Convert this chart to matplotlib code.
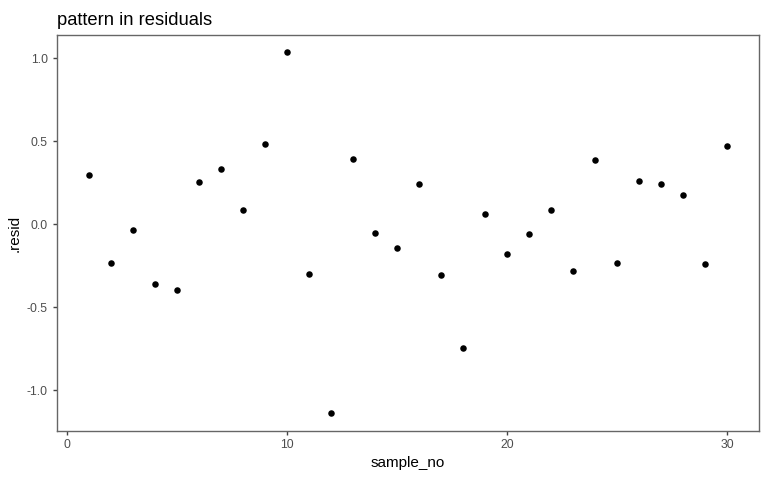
import matplotlib
matplotlib.use("Agg")
import matplotlib.pyplot as plt

plt.rcParams["font.family"] = ["Liberation Sans", "DejaVu Sans"]

sample_no = list(range(1, 31))
resid = [0.295, -0.235, -0.036, -0.361, -0.398, 0.253, 0.331, 0.084, 0.482, 1.036,
         -0.301, -1.139, 0.392, -0.054, -0.145, 0.241, -0.307, -0.747, 0.060, -0.181,
         -0.060, 0.084, -0.283, 0.386, -0.235, 0.259, 0.241, 0.175, -0.241, 0.470]
xticks = [0, 10, 20, 30]
yticks = [-1.0, -0.5, 0.0, 0.5, 1.0]

fig = plt.figure(figsize=(7.68, 4.8), dpi=100)
ax = fig.add_axes([57 / 768, 1 - 431 / 480, 702 / 768, 396 / 480])
ax.scatter(sample_no, resid, s=22, color="black", linewidths=0, zorder=3)

ax.set_xlim(-0.45, 31.45)
ax.set_ylim(-1.247, 1.139)
ax.set_xticks(xticks)
ax.set_xticklabels([str(t) for t in xticks])
ax.set_yticks(yticks)
ax.set_yticklabels([f"{t:.1f}" for t in yticks])
for s in ax.spines.values():
    s.set_color("#666666")
    s.set_linewidth(1.0)
ax.tick_params(colors="#444444", labelcolor="#4d4d4d", labelsize=8.8, length=3, width=1)
ax.tick_params(axis="x", pad=3)
ax.set_xlabel("sample_no", fontsize=11, labelpad=3)
ax.set_ylabel(".resid", fontsize=11, labelpad=4)
ax.set_title("pattern in residuals", fontsize=13.2, loc="left", x=0.0, pad=7)

fig.savefig("out.png", dpi=100)
